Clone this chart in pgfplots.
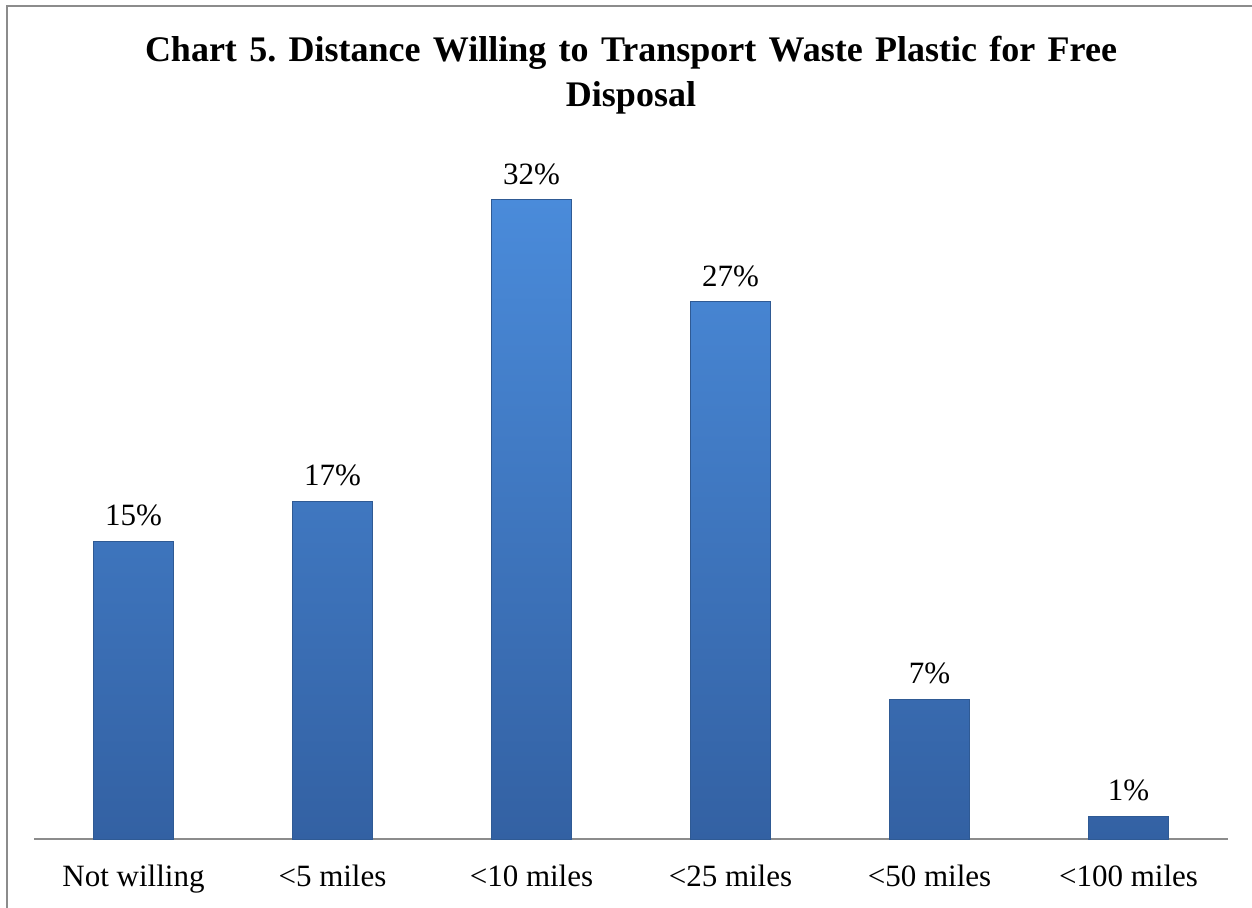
\documentclass[border=0pt]{standalone}
\usepackage{pgfplots}
\pgfplotsset{compat=1.18}
\usepackage{fontspec}
\setmainfont{Liberation Serif}
\frenchspacing
\definecolor{bartop}{HTML}{4A8BDA}
\definecolor{barbot}{HTML}{3361A3}
\definecolor{baredge}{HTML}{2F5A94}
\definecolor{frame}{HTML}{8C8C8C}
\begin{document}
\begin{tikzpicture}
\path[use as bounding box] (0,0) rectangle (626pt,453.5pt);
\draw[frame, line width=1.2pt] (3.5pt,-2pt) -- (3.5pt,450.5pt) -- (630pt,450.5pt);
\node[anchor=base, font=\fontsize{18}{22}\selectfont\bfseries, inner sep=0pt] at (315.5pt,422.5pt) {\frenchspacing\makebox[486pt][s]{Chart 5. Distance Willing to Transport Waste Plastic for Free}};
\node[anchor=base, font=\fontsize{18}{22}\selectfont\bfseries] at (315.5pt,400pt) {Disposal};
\begin{axis}[
  anchor=south west, at={(17pt,34pt)},
  scale only axis, width=597pt, height=349.5pt,
  xmin=-0.5, xmax=5.5, ymin=0, ymax=35,
  hide y axis,
  axis x line*=bottom,
  x axis line style={-, draw=frame, line width=0.6pt},
  xtick=data,
  xticklabels={Not willing,{<5 miles},{<10 miles},{<25 miles},{<50 miles},{<100 miles}},
  xticklabel style={font=\fontsize{15.5}{18}\selectfont, yshift=-9.5pt},
  major tick length=0pt,
  ybar, bar width=40pt,
  /pgf/number format/assume math mode=true,
  nodes near coords={\pgfmathprintnumber[fixed,precision=0,assume math mode=true]{\pgfplotspointmeta}\%},
  point meta=y,
  every node near coord/.append style={font=\fontsize{15.5}{18}\selectfont, yshift=4pt},
  clip=false,
]
\addplot[top color=bartop, bottom color=barbot, draw=baredge, line width=0.5pt]
coordinates {(0,14.9) (1,16.9) (2,32) (3,26.9) (4,7) (5,1.15)};
\end{axis}
\end{tikzpicture}
\end{document}
